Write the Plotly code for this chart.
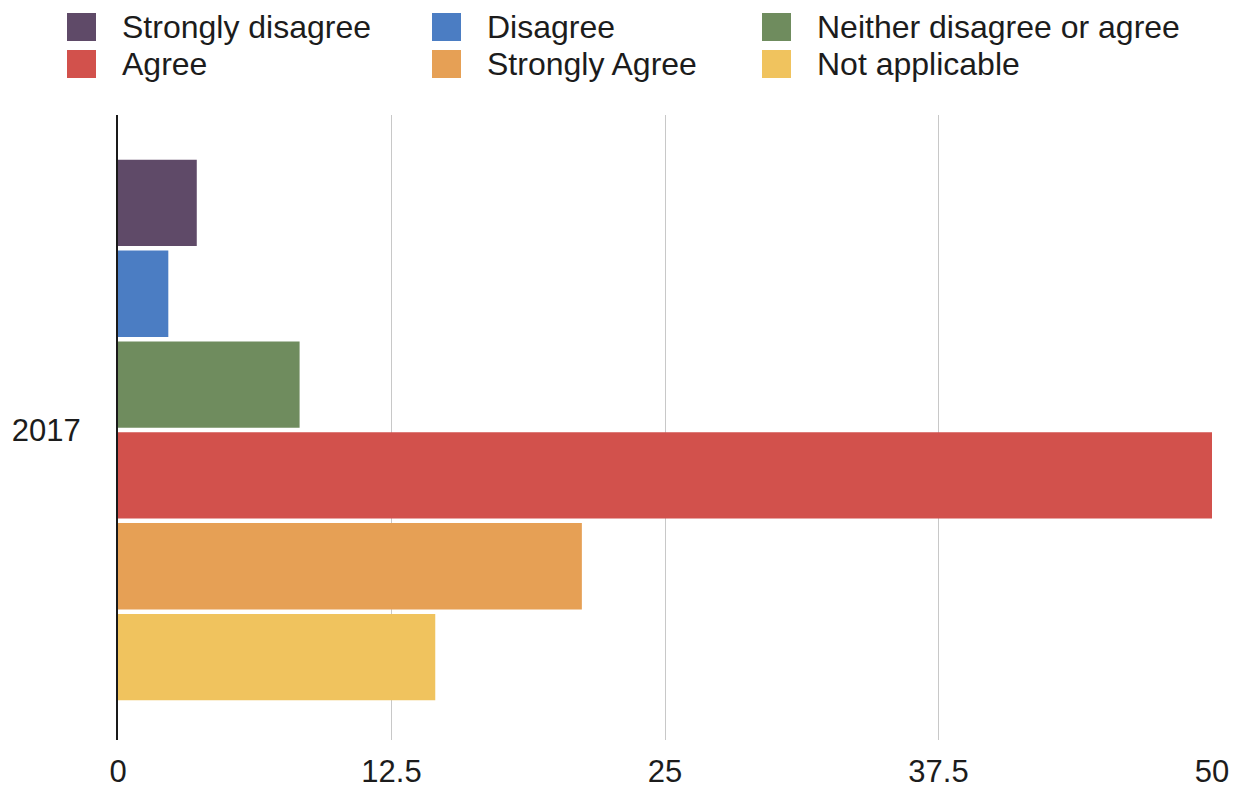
import plotly.graph_objects as go

# Canvas and plot-area margins (pixels)
W, H = 1237, 793
M_L, M_R, M_T, M_B = 118, 25, 115, 53

# Data
year = ["2017"]
responses = [
    "Strongly disagree",
    "Disagree",
    "Neither disagree or agree",
    "Agree",
    "Strongly Agree",
    "Not applicable",
]
shares = [3.6, 2.3, 8.3, 50.0, 21.2, 14.5]
colors = ["#5f4a68", "#4b7dc3", "#6f8c5e", "#d2514c", "#e6a055", "#f0c35e"]
x_ticks = [0, 12.5, 25, 37.5, 50]
x_tick_text = ["0", "12.5", "25", "37.5", "50"]

FONT = "Liberation Sans, Arial, Helvetica, sans-serif"
TEXT = "#1c1c1c"


def px_to_paper_x(px):
    return (px - M_L) / (W - M_L - M_R)


def px_to_paper_y(py):
    return (H - M_B - py) / (H - M_T - M_B)


fig = go.Figure()
for name, val, col in zip(responses, shares, colors):
    fig.add_trace(
        go.Bar(
            y=year,
            x=[val],
            name=name,
            orientation="h",
            marker=dict(color=col, line=dict(width=0)),
            showlegend=False,
        )
    )

# Legend drawn as swatches + labels in a 3-column, 2-row grid
col_x = [67, 432, 762]
row_y = [27, 64]
sw_w, sw_h = 29, 28
shapes = []
annotations = []
for i, (name, col) in enumerate(zip(responses, colors)):
    r, c = divmod(i, 3)
    x0 = col_x[c]
    yc = row_y[r]
    shapes.append(
        dict(
            type="rect",
            xref="paper",
            yref="paper",
            x0=px_to_paper_x(x0),
            x1=px_to_paper_x(x0 + sw_w),
            y0=px_to_paper_y(yc + sw_h / 2),
            y1=px_to_paper_y(yc - sw_h / 2),
            fillcolor=col,
            line=dict(width=0),
            layer="above",
        )
    )
    annotations.append(
        dict(
            xref="paper",
            yref="paper",
            x=px_to_paper_x(x0 + 53),
            y=px_to_paper_y(yc),
            xanchor="left",
            yanchor="middle",
            text=name,
            showarrow=False,
            font=dict(family=FONT, size=32, color=TEXT),
        )
    )

fig.update_layout(
    width=W,
    height=H,
    margin=dict(l=M_L, r=M_R, t=M_T, b=M_B, pad=0),
    paper_bgcolor="white",
    plot_bgcolor="white",
    barmode="group",
    bargap=0.128,
    bargroupgap=0.05,
    showlegend=False,
    shapes=shapes,
    annotations=annotations,
    font=dict(family=FONT, size=31, color=TEXT),
    xaxis=dict(
        range=[0, 50],
        tickvals=x_ticks,
        ticktext=x_tick_text,
        showgrid=True,
        gridcolor="#c8c8c8",
        gridwidth=1,
        zeroline=False,
        showline=False,
        ticks="",
        ticklabelstandoff=10,
        tickfont=dict(family=FONT, size=31, color=TEXT),
        automargin=False,
        fixedrange=True,
    ),
    yaxis=dict(
        range=[0.496, -0.504],
        showgrid=False,
        zeroline=False,
        showline=True,
        linecolor="#1a1a1a",
        linewidth=2,
        ticks="",
        ticklabelstandoff=29,
        tickfont=dict(family=FONT, size=31, color=TEXT),
        automargin=False,
        fixedrange=True,
    ),
)

fig.write_html("out.html")
